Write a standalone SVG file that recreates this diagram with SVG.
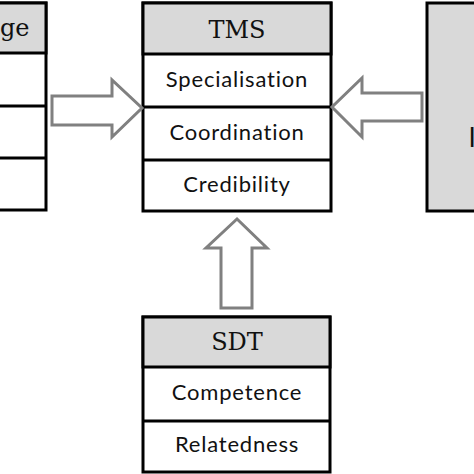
<svg xmlns="http://www.w3.org/2000/svg" width="474" height="474" viewBox="0 0 474 474">
<style>
.box{fill:#ffffff;stroke:#000;stroke-width:3}
.hdr{fill:#d9d9d9;stroke:#000;stroke-width:3}
.sep{stroke:#000;stroke-width:3}
.ttl{font-family:"DejaVu Serif","Liberation Serif",serif;font-size:24px;fill:#111;text-anchor:middle}
.itm{font-family:Lato,"Noto Sans",sans-serif;font-size:22px;letter-spacing:0.8px;font-variant-ligatures:none;fill:#111;text-anchor:middle}
.arr{fill:#fff;stroke:#808080;stroke-width:3;stroke-linejoin:miter}
</style>
<rect width="474" height="474" fill="#fff"/>
<g id="left-node">
<rect class="box" x="-150" y="3" width="196" height="207"/>
<rect class="hdr" x="-150" y="3" width="196" height="50"/>
<line class="sep" x1="-150" y1="106" x2="46" y2="106"/>
<line class="sep" x1="-150" y1="158" x2="46" y2="158"/>
<text class="ttl" x="29.5" y="36" style="text-anchor:end">ge</text>
</g>
<g id="tms">
<rect class="box" x="143" y="3" width="188" height="208"/>
<rect class="hdr" x="143" y="3" width="188" height="51"/>
<line class="sep" x1="143" y1="107" x2="331" y2="107"/>
<line class="sep" x1="143" y1="160" x2="331" y2="160"/>
<text class="ttl" x="237" y="38">TMS</text>
<text class="itm" x="237" y="87">Specialisation</text>
<text class="itm" x="237" y="140">Coordination</text>
<text class="itm" x="237" y="192">Credibility</text>
</g>
<g id="right-node">
<rect class="hdr" x="427" y="3" width="200" height="208"/>
<text x="468.5" y="147" style="font-family:Lato,'Noto Sans',sans-serif;font-size:26px;fill:#111">I</text>
</g>
<g id="sdt">
<rect class="box" x="143" y="317" width="187" height="155"/>
<rect class="hdr" x="143" y="317" width="187" height="50"/>
<line class="sep" x1="143" y1="421" x2="330" y2="421"/>
<text class="ttl" x="237" y="350">SDT</text>
<text class="itm" x="237" y="400">Competence</text>
<text class="itm" x="237" y="452">Relatedness</text>
</g>
<g id="connectors">
<polygon class="arr" points="52,96 112,96 112,80 142,108 112,137 112,125 52,125"/>
<polygon class="arr" points="422,93 362,93 362,78 332,107 362,137 362,121 422,121"/>
<polygon class="arr" points="221,308 221,248 206,248 237,219 267,248 252,248 252,308"/>
</g>
</svg>
